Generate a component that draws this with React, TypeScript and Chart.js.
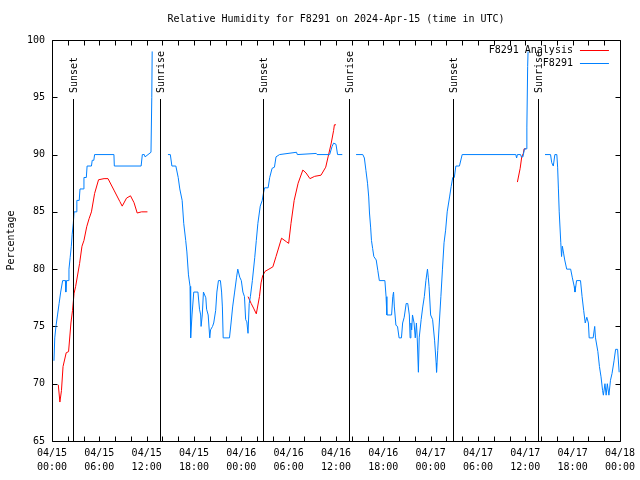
import React, { useEffect, useRef } from 'react';
import { Chart, registerables } from 'chart.js';

Chart.register(...registerables);

const FONT = "'DejaVu Sans Mono', 'Liberation Mono', monospace";

const TITLE = 'Relative Humidity for F8291 on 2024-Apr-15 (time in UTC)';
const Y_TITLE = 'Percentage';

// hours since 04/15 00:00 UTC
const xTickDates = ['04/15', '04/15', '04/15', '04/15', '04/16', '04/16', '04/16', '04/16', '04/17', '04/17', '04/17', '04/17', '04/18'];
const xTickTimes = ['00:00', '06:00', '12:00', '18:00', '00:00', '06:00', '12:00', '18:00', '00:00', '06:00', '12:00', '18:00', '00:00'];

const sunTimes = [2.66, 13.7, 26.74, 37.6, 50.78, 61.66];
const sunLabels = ['Sunset', 'Sunrise', 'Sunset', 'Sunrise', 'Sunset', 'Sunrise'];
const SUN_LINE_TOP = 94.85;

// F8291 Analysis (red)
const anaTimes1 = [0.8, 1.0, 1.2, 1.4, 1.8, 2.1, 2.4, 2.6, 2.8, 3.0, 3.5, 3.8, 4.05, 4.4, 4.7, 5.0, 5.4, 5.9, 6.6, 7.1, 7.85, 8.6, 8.9, 9.45, 9.95, 10.4, 10.8, 11.35, 12.1];
const anaValues1 = [69.9, 68.4, 69.4, 71.5, 72.7, 72.8, 75.3, 76.4, 77.9, 78.5, 80.5, 82, 82.5, 83.7, 84.4, 85, 86.6, 87.8, 87.9, 87.9, 86.9, 85.9, 85.5, 86.2, 86.4, 85.8, 84.9, 85, 85];
const anaTimes2 = [24.85, 25.25, 25.55, 25.9, 26.3, 26.5, 26.7, 27.0, 27.5, 28.0, 28.4, 29.1, 29.7, 30.0, 30.3, 30.7, 31.2, 31.8, 32.2, 32.7, 33.3, 34.1, 34.7, 35.0, 35.4, 35.7, 35.8, 36.0];
const anaValues2 = [77.6, 77, 76.6, 76.1, 77.6, 78.8, 79.4, 79.8, 80, 80.2, 81.1, 82.7, 82.4, 82.25, 84, 86, 87.5, 88.65, 88.4, 87.9, 88.1, 88.2, 88.9, 89.8, 91, 92.1, 92.6, 92.6];
const anaTimes3 = [59.0, 59.35, 59.55, 59.75, 59.85, 60.1];
const anaValues3 = [87.6, 88.8, 89.8, 90.1, 90.5, 90.5];

// F8291 observations (blue)
const obsTimes1 = [0.25, 0.35, 0.5, 0.7, 0.9, 1.1, 1.35, 1.7, 1.75, 1.85, 2.05, 2.15, 2.3, 2.45, 2.55, 2.7, 2.8, 3.05, 3.15, 3.45, 3.55, 3.95, 4.05, 4.35, 4.45, 5.0, 5.1, 5.3, 5.4, 7.85, 7.9, 11.3, 11.45, 11.7, 11.8, 12.55, 12.65, 12.7];
const obsValues1 = [72, 74, 75, 76, 77, 78, 79, 79, 78, 79, 79, 80, 81, 82, 83, 84, 85, 85, 86, 86, 87, 87, 88, 88, 89, 89, 89.5, 89.5, 90, 90, 89, 89, 90, 90, 89.8, 90.2, 95, 99];
const obsTimes2 = [14.7, 15.0, 15.2, 15.7, 16.0, 16.2, 16.5, 16.7, 16.95, 17.1, 17.3, 17.5, 17.55, 17.6, 17.75, 17.97, 18.5, 18.7, 18.85, 18.9, 19.05, 19.2, 19.5, 19.6, 19.8, 20.0, 20.1, 20.35, 20.5, 20.75, 20.9, 21.1, 21.35, 21.5, 21.6, 21.7, 22.5, 22.7, 22.9, 23.15, 23.4, 23.55, 23.8, 24.0, 24.2, 24.4, 24.55, 24.7, 24.85, 25.0, 25.15, 25.4, 25.7, 25.9, 26.1, 26.4, 26.65, 26.8, 26.95, 27.4, 27.6, 27.9, 28.2, 28.4, 28.85, 31.0, 31.1, 33.5, 33.6, 35.2, 35.5, 35.7, 36.0, 36.2, 36.8];
const obsValues2 = [90, 90, 89, 89, 88, 87, 86, 84, 82.5, 81.5, 79.5, 78.5, 76, 74, 76, 78, 78, 76.5, 76, 75, 76, 78, 77.5, 76.5, 76, 74, 74.7, 75, 75.3, 76.4, 78, 79, 79, 78, 76.7, 74, 74, 75.3, 76.7, 78, 79.3, 80, 79.3, 79, 78, 77.6, 75.6, 75.4, 74.4, 77, 77.6, 79, 81, 82.5, 84, 85.5, 86, 86.6, 87.1, 87.1, 88, 88.8, 88.9, 89.8, 90, 90.2, 90, 90.1, 90, 90, 90.7, 91, 90.9, 90, 90];
const obsTimes3 = [38.55, 39.4, 39.6, 39.8, 40.0, 40.15, 40.25, 40.4, 40.5, 40.65, 40.8, 41.1, 41.3, 41.5, 42.2, 42.35, 42.45, 43.05, 43.2, 43.3, 43.4, 43.6, 43.8, 44.0, 44.3, 44.45, 44.65, 44.9, 45.1, 45.3, 45.4, 45.5, 45.6, 45.7, 45.9, 46.05, 46.2, 46.3, 46.45, 46.55, 46.8, 47.0, 47.2, 47.4, 47.6, 47.7, 47.8, 48.0, 48.25, 48.5, 48.7, 48.75, 48.9, 49.1, 49.3, 49.5, 49.7, 49.9, 50.1, 50.4, 50.6, 50.8, 51.0, 51.2, 51.65, 52.0, 58.8, 58.9, 59.0, 59.4, 59.5, 59.7, 59.9, 60.1, 60.2, 60.3, 60.35];
const obsValues3 = [90, 90, 89.7, 88.6, 87.5, 86.3, 84.9, 83.6, 82.5, 81.8, 81.1, 80.8, 79.9, 79, 79, 77.6, 76, 76, 77.6, 78, 76.7, 75.1, 75, 74, 74, 75.3, 75.8, 77, 77, 76, 74, 75.3, 74.7, 76, 75.3, 74, 75.3, 74, 71, 74, 75.6, 76.7, 77.6, 79, 80, 79.3, 78.5, 76, 75.6, 73.8, 71.8, 71, 72.9, 75.3, 77.6, 80, 82.3, 83.4, 85, 86.3, 87.2, 88, 88, 89, 89, 90, 90, 89.7, 90, 90, 89.8, 89.8, 90.5, 90.5, 92.4, 97.7, 99];
const obsTimes4 = [62.5, 63.2, 63.35, 63.55, 63.75, 64.0, 64.1, 64.2, 64.3, 64.5, 64.6, 64.7, 64.85, 65.0, 65.25, 65.75, 65.95, 66.2, 66.3, 66.5, 67.0, 67.2, 67.4, 67.6, 67.8, 68.0, 68.1, 68.6, 68.8, 68.9, 69.2, 69.4, 69.6, 69.8, 69.9, 70.1, 70.25, 70.4, 70.6, 70.8, 71.0, 71.25, 71.45, 71.7, 71.9];
const obsValues4 = [90, 90, 89.3, 89, 90, 90, 88.9, 87, 85, 82.3, 81.1, 82, 81.4, 80.8, 80, 80, 79.3, 78.5, 78, 79, 79, 77.6, 76.4, 75.3, 75.8, 75.3, 74, 74, 75, 74, 72.8, 71.5, 70.6, 69.4, 69, 70, 69, 70, 69, 70.3, 70.9, 72, 73, 73, 71];

type Pt = { x: number; y: number | null };

function seg(times: number[], values: number[]): Pt[] {
  return times.map((t, i) => ({ x: t, y: values[i] }));
}

function join(...segs: Pt[][]): Pt[] {
  const out: Pt[] = [];
  segs.forEach((s, i) => {
    if (i > 0) out.push({ x: (out[out.length - 1].x + s[0].x) / 2, y: null });
    out.push(...s);
  });
  return out;
}

const decorPlugin = {
  id: 'gnuplotDecor',
  beforeDraw(chart: any) {
    const { ctx, width, height } = chart;
    ctx.save();
    ctx.fillStyle = '#ffffff';
    ctx.fillRect(0, 0, width, height);
    ctx.restore();
  },
  beforeDatasetsDraw(chart: any) {
    const { ctx, chartArea: a } = chart;
    const xs = chart.scales.x;
    const ys = chart.scales.y;
    const L = Math.round(a.left) + 0.5;
    const R = Math.round(a.right) + 0.5;
    const T = Math.round(a.top) + 0.5;
    const B = Math.round(a.bottom) + 0.5;
    ctx.save();
    ctx.strokeStyle = '#000000';
    ctx.lineWidth = 1;
    ctx.beginPath();
    ctx.rect(L, T, R - L, B - T);
    xs.ticks.forEach((t: any) => {
      const p = Math.round(xs.getPixelForValue(t.value)) + 0.5;
      ctx.moveTo(p, B);
      ctx.lineTo(p, B - 5);
      ctx.moveTo(p, T);
      ctx.lineTo(p, T + 5);
    });
    ys.ticks.forEach((t: any) => {
      const p = Math.round(ys.getPixelForValue(t.value)) + 0.5;
      ctx.moveTo(L, p);
      ctx.lineTo(L + 5, p);
      ctx.moveTo(R, p);
      ctx.lineTo(R - 5, p);
    });
    ctx.stroke();

    ctx.fillStyle = '#000000';
    ctx.font = `10px ${FONT}`;
    ctx.textAlign = 'center';
    ctx.textBaseline = 'middle';
    ctx.fillText(TITLE, (a.left + a.right) / 2, 19);
    ctx.save();
    ctx.translate(11, (a.top + a.bottom) / 2);
    ctx.rotate(-Math.PI / 2);
    ctx.fillText(Y_TITLE, 0, 0);
    ctx.restore();
    ctx.restore();
  },
  afterDatasetsDraw(chart: any) {
    const { ctx, chartArea: a } = chart;
    const xs = chart.scales.x;
    const ys = chart.scales.y;
    const B = Math.round(a.bottom) + 0.5;
    ctx.save();
    ctx.strokeStyle = '#000000';
    ctx.fillStyle = '#000000';
    ctx.lineWidth = 1;
    ctx.font = `10px ${FONT}`;
    const top = Math.round(ys.getPixelForValue(SUN_LINE_TOP));
    sunTimes.forEach((t, i) => {
      const p = Math.round(xs.getPixelForValue(t)) + 0.5;
      ctx.beginPath();
      ctx.moveTo(p, B);
      ctx.lineTo(p, top);
      ctx.stroke();
      ctx.save();
      ctx.translate(p + 1, top - 6);
      ctx.rotate(-Math.PI / 2);
      ctx.textAlign = 'left';
      ctx.textBaseline = 'middle';
      ctx.fillText(sunLabels[i], 0, 0);
      ctx.restore();
    });

    // key (top right, gnuplot style)
    chart.data.datasets.forEach((ds: any, i: number) => {
      const yy = Math.round(a.top + 10 + i * 13) + 0.5;
      ctx.textAlign = 'right';
      ctx.textBaseline = 'middle';
      ctx.fillStyle = '#000000';
      ctx.fillText(ds.label, a.right - 47, yy);
      ctx.strokeStyle = ds.borderColor;
      ctx.beginPath();
      ctx.moveTo(a.right - 40, yy);
      ctx.lineTo(a.right - 11, yy);
      ctx.stroke();
    });
    ctx.restore();
  },
};

export default function App() {
  const ref = useRef<HTMLCanvasElement | null>(null);

  useEffect(() => {
    if (!ref.current) return;
    Chart.defaults.font.family = FONT;
    const tickFont = { family: FONT, size: 10, lineHeight: 1.4 };
    const chart = new Chart(ref.current, {
      type: 'line',
      data: {
        datasets: [
          {
            label: 'F8291 Analysis',
            data: join(seg(anaTimes1, anaValues1), seg(anaTimes2, anaValues2), seg(anaTimes3, anaValues3)),
            borderColor: '#ff0000',
            borderWidth: 1,
            pointRadius: 0,
            spanGaps: false,
            tension: 0,
            order: 2,
          },
          {
            label: 'F8291',
            data: join(seg(obsTimes1, obsValues1), seg(obsTimes2, obsValues2), seg(obsTimes3, obsValues3), seg(obsTimes4, obsValues4)),
            borderColor: '#0080ff',
            borderWidth: 1,
            pointRadius: 0,
            spanGaps: false,
            tension: 0,
            order: 1,
          },
        ],
      },
      options: {
        responsive: false,
        animation: false,
        layout: { padding: { top: 40, right: 19, left: 0, bottom: 0 } },
        plugins: {
          legend: { display: false },
          tooltip: { enabled: false },
          title: { display: false },
        },
        scales: {
          x: {
            type: 'linear',
            min: 0,
            max: 72,
            grid: { display: false, drawTicks: false },
            border: { display: false },
            ticks: {
              stepSize: 2,
              autoSkip: false,
              maxRotation: 0,
              minRotation: 0,
              padding: 5,
              color: '#000000',
              font: tickFont,
              callback: (v: any) => {
                const n = Math.round(Number(v));
                if (n % 6 !== 0) return '';
                const k = n / 6;
                return [xTickDates[k], xTickTimes[k]];
              },
            },
            afterFit: (s: any) => {
              s.height = 39;
            },
          },
          y: {
            type: 'linear',
            min: 65,
            max: 100,
            grid: { display: false, drawTicks: false },
            border: { display: false },
            ticks: {
              stepSize: 5,
              padding: 7,
              color: '#000000',
              font: { family: FONT, size: 10 },
            },
            afterFit: (s: any) => {
              s.width = 52;
            },
          },
        },
      },
      plugins: [decorPlugin],
    });
    return () => chart.destroy();
  }, []);

  return (
    <canvas
      ref={ref}
      width={640}
      height={480}
      style={{ position: 'absolute', left: 0, top: 0, display: 'block' }}
    />
  );
}
